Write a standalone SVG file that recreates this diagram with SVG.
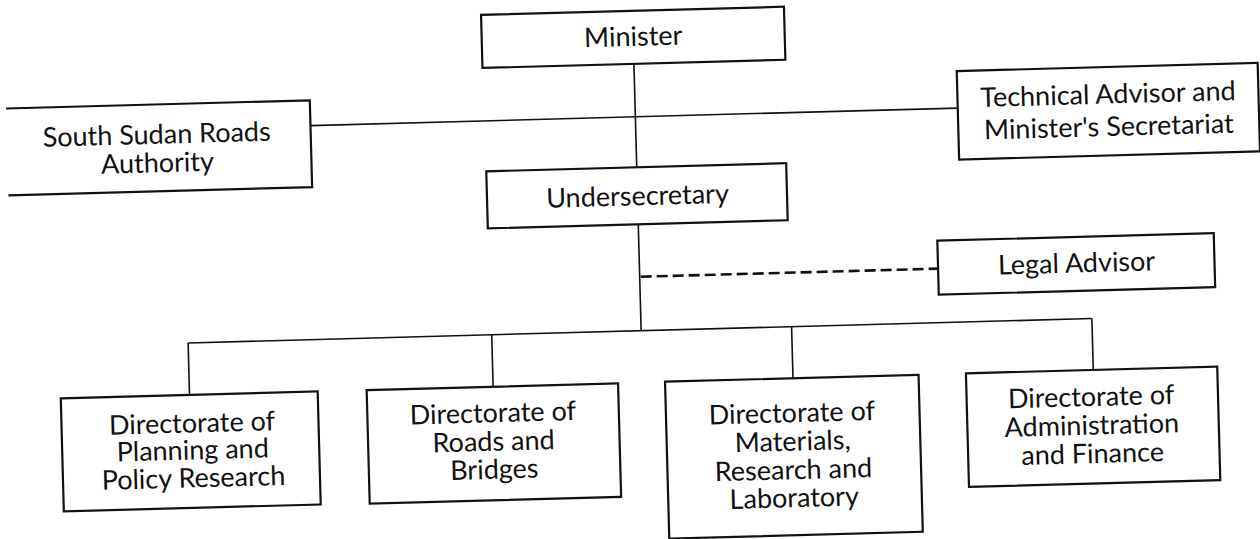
<svg xmlns="http://www.w3.org/2000/svg" width="1260" height="539" viewBox="0 0 1260 539">
<style>
.box{fill:#fff;stroke:#111;stroke-width:2.2}
.ln{fill:none;stroke:#111;stroke-width:1.6}
.dash{fill:none;stroke:#111;stroke-width:2.6;stroke-dasharray:11 5}
text{font-family:Lato,"Liberation Sans",sans-serif;font-size:27px;fill:#111;text-anchor:middle}
</style>
<rect width="1260" height="539" fill="#fff"/>
<g transform="rotate(-1.55 630 270)">
<g id="connectors">
<path class="ln" d="M639.5,64 V167.5"/>
<path class="ln" d="M314.5,117 H962"/>
<path class="ln" d="M639.5,224.5 V331"/>
<path class="ln" d="M186.3,331 H1090.4"/>
<path class="ln" d="M186.3,331 V383 M490,331 V383 M790,331 V383 M1090.4,331 V383"/>
<path class="dash" d="M640.5,277 H938"/>
</g>
<g id="minister"><rect class="box" x="488" y="11" width="303" height="53"/><text x="639.5" y="46">Minister</text></g>
<g id="ssra"><path class="box" d="M10.7,91.7 H314.5 V178.5 H10.7"/><text x="160.5" y="131">South Sudan Roads</text><text x="160.5" y="159.5">Authority</text></g>
<g id="tech-advisor"><rect class="box" x="962" y="80" width="301" height="88.5"/><text x="1112.5" y="116.5">Technical Advisor and</text><text x="1112.5" y="149">Minister's Secretariat</text></g>
<g id="undersecretary"><rect class="box" x="489" y="167.5" width="300" height="57"/><text x="639.5" y="205.5">Undersecretary</text></g>
<g id="legal-advisor"><rect class="box" x="938" y="249" width="276.5" height="54"/><text x="1076.6" y="284.5">Legal Advisor</text></g>
<g id="dir-planning"><rect class="box" x="57.5" y="383" width="257" height="113"/><text x="188" y="420.5">Directorate of</text><text x="188" y="447.5">Planning and</text><text x="188" y="475.5">Policy Research</text></g>
<g id="dir-roads"><rect class="box" x="363.5" y="383" width="251.5" height="113.5"/><text x="489" y="418.5">Directorate of</text><text x="489" y="447">Roads and</text><text x="489" y="475">Bridges</text></g>
<g id="dir-materials"><rect class="box" x="662" y="382.6" width="253.6" height="157"/><text x="788" y="426.5">Directorate of</text><text x="788" y="455">Materials,</text><text x="788" y="483.5">Research and</text><text x="788" y="511.5">Laboratory</text></g>
<g id="dir-admin"><rect class="box" x="963" y="382.4" width="251.4" height="113.6"/><text x="1087.5" y="418.5">Directorate of</text><text x="1087.5" y="447">Administration</text><text x="1087.5" y="475.5">and Finance</text></g>
</g>
</svg>
